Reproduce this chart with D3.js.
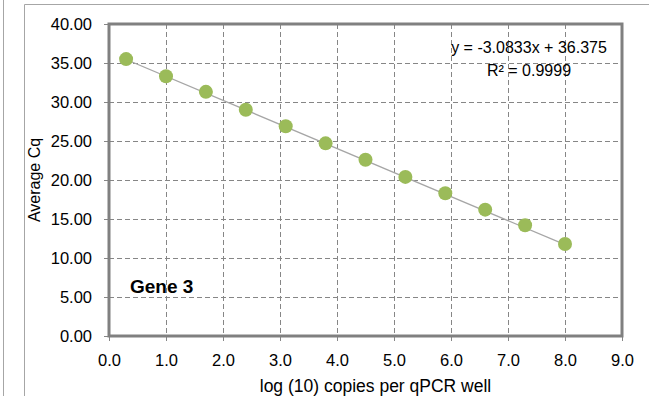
<!DOCTYPE html>
<html lang="en">
<head>
<meta charset="UTF-8">
<title>Gene 3 standard curve</title>
<script src="https://d3js.org/d3.v7.min.js"></script>
<style>
  body { margin: 0; background: #fff; }
  text { font-family: "Liberation Sans", Arial, sans-serif; fill: #000; }
</style>
</head>
<body>
<svg id="chart" width="649" height="396"></svg>
<script>
    // data
    const logCopies = [0.3, 1.0, 1.7, 2.4, 3.1, 3.8, 4.5, 5.2, 5.9, 6.6, 7.3, 8.0];
    const avgCq = [35.5, 33.3, 31.3, 29.0, 26.9, 24.7, 22.6, 20.4, 18.3, 16.2, 14.2, 11.8];
    const xTicks = [0, 1, 2, 3, 4, 5, 6, 7, 8, 9];
    const yTicks = [0, 5, 10, 15, 20, 25, 30, 35, 40];
    const slope = -3.0833, intercept = 36.375;

    const svg = d3.select("#chart");
    const pl = 109, pr = 622, pt = 24, pb = 336;

    const x = d3.scaleLinear().domain([0, 9]).range([pl, pr]);
    const y = d3.scaleLinear().domain([0, 40]).range([pb, pt]);

    // outer frame lines
    svg.append("line").attr("x1", 3.5).attr("x2", 3.5).attr("y1", 0).attr("y2", 396)
        .attr("stroke", "#a6a6a6");
    svg.append("line").attr("x1", 24.5).attr("x2", 24.5).attr("y1", 4.5).attr("y2", 396)
        .attr("stroke", "#a6a6a6");
    svg.append("line").attr("x1", 24.5).attr("x2", 649).attr("y1", 4.5).attr("y2", 4.5)
        .attr("stroke", "#a6a6a6");

    // gridlines
    svg.append("g").selectAll("line").data(yTicks.filter(d => d > 0 && d < 40)).join("line")
        .attr("x1", pl).attr("x2", pr)
        .attr("y1", d => Math.round(y(d)) + 0.5).attr("y2", d => Math.round(y(d)) + 0.5)
        .attr("stroke", "#868686").attr("stroke-dasharray", "5,3");
    svg.append("g").selectAll("line").data(xTicks.filter(d => d > 0 && d < 9)).join("line")
        .attr("x1", d => Math.round(x(d)) + 0.5).attr("x2", d => Math.round(x(d)) + 0.5)
        .attr("y1", pt).attr("y2", pb)
        .attr("stroke", "#868686").attr("stroke-dasharray", "5,3");

    // axes
    const yAxis = svg.append("g").attr("transform", `translate(${pl},0)`)
        .call(d3.axisLeft(y).tickValues(yTicks).tickFormat(d3.format(".2f")).tickSize(5).tickPadding(12));
    const xAxis = svg.append("g").attr("transform", `translate(0,${pb})`)
        .call(d3.axisBottom(x).tickValues(xTicks).tickFormat(d3.format(".1f")).tickSize(5).tickPadding(13));
    [yAxis, xAxis].forEach(a => {
        a.select(".domain").remove();
        a.selectAll(".tick line").attr("stroke", "#868686");
        a.selectAll(".tick text").style("font-size", "16.5px")
            .style("font-family", "'Liberation Sans', Arial, sans-serif");
    });

    // plot border
    svg.append("rect").attr("x", pl).attr("y", pt)
        .attr("width", pr - pl).attr("height", pb - pt)
        .attr("fill", "none").attr("stroke", "#808080").attr("stroke-width", 3);

    // trendline
    svg.append("line")
        .attr("x1", x(logCopies[0])).attr("y1", y(slope * logCopies[0] + intercept))
        .attr("x2", x(logCopies[logCopies.length - 1]))
        .attr("y2", y(slope * logCopies[logCopies.length - 1] + intercept))
        .attr("stroke", "#a6a6a6").attr("stroke-width", 1.3);

    // points
    svg.append("g").selectAll("circle").data(logCopies).join("circle")
        .attr("cx", d => x(d)).attr("cy", (d, i) => y(avgCq[i]))
        .attr("r", 7).attr("fill", "#9bbb59");

    // labels
    svg.append("text").attr("x", 529).attr("y", 53).attr("text-anchor", "middle")
        .attr("font-size", 16).text("y = -3.0833x + 36.375");
    svg.append("text").attr("x", 529).attr("y", 75.5).attr("text-anchor", "middle")
        .attr("font-size", 16).text("R² = 0.9999");
    svg.append("text").attr("x", 130).attr("y", 293)
        .attr("font-size", 19).attr("font-weight", "bold").text("Gene 3");
    svg.append("text").attr("x", 375.5).attr("y", 391.5).attr("text-anchor", "middle")
        .attr("font-size", 17.5).text("log (10) copies per qPCR well");
    svg.append("text").attr("transform", "translate(39.5,180) rotate(-90)").attr("text-anchor", "middle")
        .attr("font-size", 16).text("Average Cq");
</script>
</body>
</html>
